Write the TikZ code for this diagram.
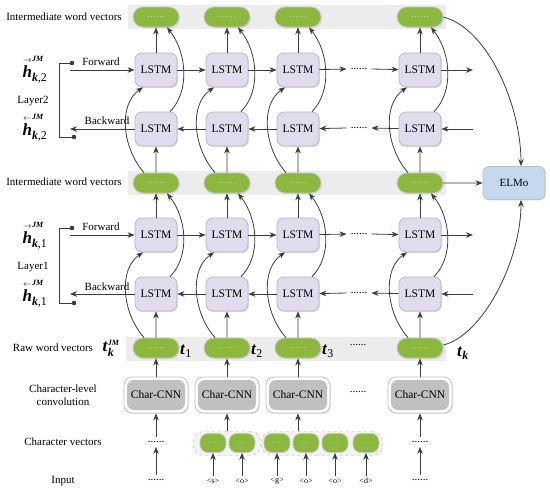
\documentclass[tikz,border=0pt]{standalone}
\usepackage{amsmath}
\usepackage{fontspec}
\setmainfont{Liberation Serif}
\usetikzlibrary{arrows.meta,shapes.misc,shadows,calc}

\definecolor{pillgreen}{RGB}{141,184,64}
\definecolor{lstmfill}{RGB}{224,220,238}
\definecolor{elmofill}{RGB}{196,217,238}
\definecolor{bandgray}{RGB}{236,236,236}
\definecolor{cnngray}{RGB}{192,192,192}
\definecolor{arr}{RGB}{60,60,60}

\newcommand{\hvec}[2]{{\fontsize{17}{17}\selectfont$\overset{\scriptscriptstyle#1}{\textbf{\textit{h}}}^{\text{\fontsize{8}{8}\selectfont\bfseries\itshape JM}}_{\textbf{\textit{k}}\text{,#2}}$}}
\newcommand{\tlab}[1]{{\fontsize{17}{17}\selectfont$\textbf{\textit{t}}_{#1}$}}
\newcommand{\pdots}{.\kern1.2pt.\kern1.2pt.\kern1.2pt.\kern1.2pt.\kern1.2pt.}

\begin{document}
\begin{tikzpicture}[x=1pt,y=-1pt,
  lbl/.style={font=\fontsize{11}{13}\selectfont, align=center, inner sep=1pt},
  lstm/.style={draw=gray!55, line width=0.8pt, fill=lstmfill, rounded corners=7pt,
    minimum width=42pt, minimum height=34pt, inner sep=0pt, font=\fontsize{11.5}{12}\selectfont,
    drop shadow={opacity=0.25,shadow xshift=1pt,shadow yshift=-1pt}},
  pill/.style={draw=gray!45, line width=0.8pt, fill=pillgreen, rounded rectangle,
    minimum width=46pt, minimum height=20pt, inner sep=0pt, text=white,
    font=\fontsize{7}{8}\selectfont,
    drop shadow={opacity=0.2,shadow xshift=1pt,shadow yshift=-1pt}},
  cpill/.style={draw=gray!45, line width=0.7pt, fill=pillgreen, rounded corners=8pt,
    minimum width=26pt, minimum height=19pt, inner sep=0pt, text=white,
    font=\fontsize{7}{8}\selectfont},
  group/.style={draw=gray!60, dashed, fill=gray!10, rounded corners=10pt,
    minimum height=24pt, inner sep=0pt},
  cnnout/.style={draw=gray!50, line width=0.8pt, fill=white, rounded corners=8pt,
    minimum width=64pt, minimum height=36pt, inner sep=0pt,
    drop shadow={opacity=0.2,shadow xshift=1pt,shadow yshift=-1pt}},
  cnnin/.style={fill=cnngray, rounded corners=7pt, minimum width=58pt,
    minimum height=30pt, inner sep=0pt, font=\fontsize{11.5}{12}\selectfont},
  elmo/.style={draw=gray!50, line width=0.8pt, fill=elmofill, rounded corners=6pt,
    minimum width=62pt, minimum height=33pt, inner sep=0pt, font=\fontsize{11}{12}\selectfont,
    drop shadow={opacity=0.2,shadow xshift=1pt,shadow yshift=-1pt}},
  dots/.style={font=\fontsize{11}{11}\selectfont, inner sep=4pt},
  inl/.style={font=\fontsize{8}{9}\selectfont, inner sep=2pt},
  ar/.style={draw=arr, line width=0.8pt, -{Stealth[length=7pt,width=5.5pt]}},
  ln/.style={draw=arr, line width=0.8pt}
]
\useasboundingbox (0,0) rectangle (550,491);

% bands
\fill[bandgray] (128,5) rectangle (446,29);
\fill[bandgray] (128,171) rectangle (446,195);
\fill[bandgray] (126,337) rectangle (446,361);

% columns
\foreach \i/\x in {1/156,2/227,3/298,4/420} {
  \node[pill] (top\i) at (\x,17) {\pdots};
  \node[lstm] (f2\i) at (\x,70) {LSTM};
  \node[lstm] (b2\i) at (\x,129) {LSTM};
  \node[pill] (mid\i) at (\x,183) {\pdots};
  \node[lstm] (f1\i) at (\x,235) {LSTM};
  \node[lstm] (b1\i) at (\x,294) {LSTM};
  \node[pill] (raw\i) at (\x,348) {\pdots};
  \node[cnnout] (cnno\i) at (\x,395) {};
  \node[cnnin] (cnn\i) at (\x,395) {Char-CNN};
  \draw[ar] (f2\i) -- (top\i);
  \draw[ar] (mid\i) -- (b2\i);
  \draw[ar] (f1\i) -- (mid\i);
  \draw[ar] (raw\i) -- (b1\i);
  \draw[ar] (cnno\i) -- (raw\i);
  \draw[ar] ([xshift=-12pt]mid\i.north) .. controls +(-22,-25) and +(-25,17) .. ([xshift=-13pt]f2\i.south);
  \draw[ar] ([xshift=14pt]b2\i.north) .. controls +(20,-20) and +(20,25) .. ([xshift=11pt]top\i.south);
  \draw[ar] ([xshift=-12pt]raw\i.north) .. controls +(-22,-25) and +(-25,17) .. ([xshift=-13pt]f1\i.south);
  \draw[ar] ([xshift=14pt]b1\i.north) .. controls +(20,-20) and +(20,25) .. ([xshift=11pt]mid\i.south);
}

% horizontal LSTM links
\node[dots] (df2) at (359,69) {......};
\node[dots] (db2) at (359,128) {......};
\node[dots] (df1) at (359,234) {......};
\node[dots] (db1) at (359,293) {......};
\coordinate (f2r) at (473,70);
\coordinate (b2r) at (473,129);
\coordinate (f1r) at (473,235);
\coordinate (b1r) at (473,294);
\foreach \L in {2,1} {
  \draw[ar] (f\L1) -- (f\L2);
  \draw[ar] (f\L2) -- (f\L3);
  \draw[ar] (f\L3) -- (df\L.west);
  \draw[ar] (df\L.east) -- (f\L4);
  \draw[ar] (f\L4) -- (f\L r);
  \draw[ar] (b\L r) -- (b\L4);
  \draw[ar] (b\L4) -- (db\L.east);
  \draw[ar] (db\L.west) -- (b\L3);
  \draw[ar] (b\L3) -- (b\L2);
  \draw[ar] (b\L2) -- (b\L1);
}

% left side: layer 2
\node[lbl] (iwv2) at (64,17) {Intermediate word vectors};
\node (h2f) at (35,70) {\hvec{\rightarrow}{2}};
\node (h2b) at (35,128) {\hvec{\leftarrow}{2}};
\node[lbl] (lay2) at (33,101) {Layer2};
\node[lbl] (fw2) at (101,62) {Forward};
\node[lbl] (bw2) at (107,121) {Backward};
\coordinate (l2t) at (72,63);
\coordinate (l2b) at (74,137);
\draw[ln] (l2t) -- (59,63) -- (59,137) -- (l2b);
\fill[arr] (l2t) circle (2.3pt);
\fill[arr] (l2b) circle (2.3pt);
\coordinate (f2in) at (70,70);
\coordinate (b2out) at (70,129);
\draw[ar] (f2in) -- (f21);
\draw[ar] (b21) -- (b2out);

% left side: layer 1
\node[lbl] (iwv1) at (64,182) {Intermediate word vectors};
\node (h1f) at (35,236) {\hvec{\rightarrow}{1}};
\node (h1b) at (35,294) {\hvec{\leftarrow}{1}};
\node[lbl] (lay1) at (33,267) {Layer1};
\node[lbl] (fw1) at (101,227) {Forward};
\node[lbl] (bw1) at (107,287) {Backward};
\coordinate (l1t) at (72,228);
\coordinate (l1b) at (74,303);
\draw[ln] (l1t) -- (59,228) -- (59,303) -- (l1b);
\fill[arr] (l1t) circle (2.3pt);
\fill[arr] (l1b) circle (2.3pt);
\coordinate (f1in) at (70,235);
\coordinate (b1out) at (70,294);
\draw[ar] (f1in) -- (f11);
\draw[ar] (b11) -- (b1out);

% raw word vectors row
\node[lbl] (rwv) at (53,348) {Raw word vectors};
\node (tkjm) at (111,348) {{\fontsize{17}{17}\selectfont$\textbf{\textit{t}}^{\text{\fontsize{8}{8}\selectfont\bfseries\itshape JM}}_{\textbf{\textit{k}}}$}};
\node (t1) at (186,351) {\tlab{\text{1}}};
\node (t2) at (257,351) {\tlab{\text{2}}};
\node (t3) at (328,351) {\tlab{\text{3}}};
\node (tk) at (463,353) {\tlab{\textbf{\textit{k}}}};
\node[dots] (draw) at (358,345) {......};

% Char-CNN row
\node[lbl] (clc) at (63,395) {Character-level\\convolution};
\node[dots] (dcnn) at (358,392) {......};

% character vectors
\node[lbl] (cvl) at (63,442) {Character vectors};
\node[lbl] (inl) at (63,481) {Input};

\node[dots] (cv1) at (156,442) {......};
\node[dots] (in1) at (156,480) {......};
\draw[ar] (in1) -- (cv1);
\draw[ar] (cv1) -- (cnno1);
\node[dots] (cv4) at (420,442) {......};
\node[dots] (in4) at (420,480) {......};
\draw[ar] (in4) -- (cv4);
\draw[ar] (cv4) -- (cnno4);

\node[group, minimum width=67pt] (g2) at (227,443.5) {};
\node[group, minimum width=121pt] (g3) at (322,443.5) {};
\draw[ar] (g2.north) -- (cnno2);
\draw[ar] (g3.north -| cnno3) -- (cnno3);

\foreach \n/\x/\t in {a/213/s, b/242/o} {
  \node[cpill] (c2\n) at (\x,443) {$\cdots$};
  \node[inl] (i2\n) at (\x,481) {\textless\t\textgreater};
  \draw[ar] (i2\n) -- (c2\n);
}
\foreach \n/\x/\t in {a/277/g, b/306/o, c/335/o, d/366/d} {
  \node[cpill] (c3\n) at (\x,443) {$\cdots$};
  \node[inl] (i3\n) at (\x,481) {\textless\t\textgreater};
  \draw[ar] (i3\n) -- (c3\n);
}

% ELMo
\node[elmo] (elmo) at (514,183) {ELMo};
\draw[ar] (mid4) -- (elmo);
\draw[ar] (top4.east) .. controls +(45,12) and +(0,-60) .. ([xshift=7pt]elmo.north);
\draw[ar] ([yshift=3pt]raw4.east) .. controls +(40,-10) and +(0,60) .. ([xshift=7pt]elmo.south);
\end{tikzpicture}
\end{document}
